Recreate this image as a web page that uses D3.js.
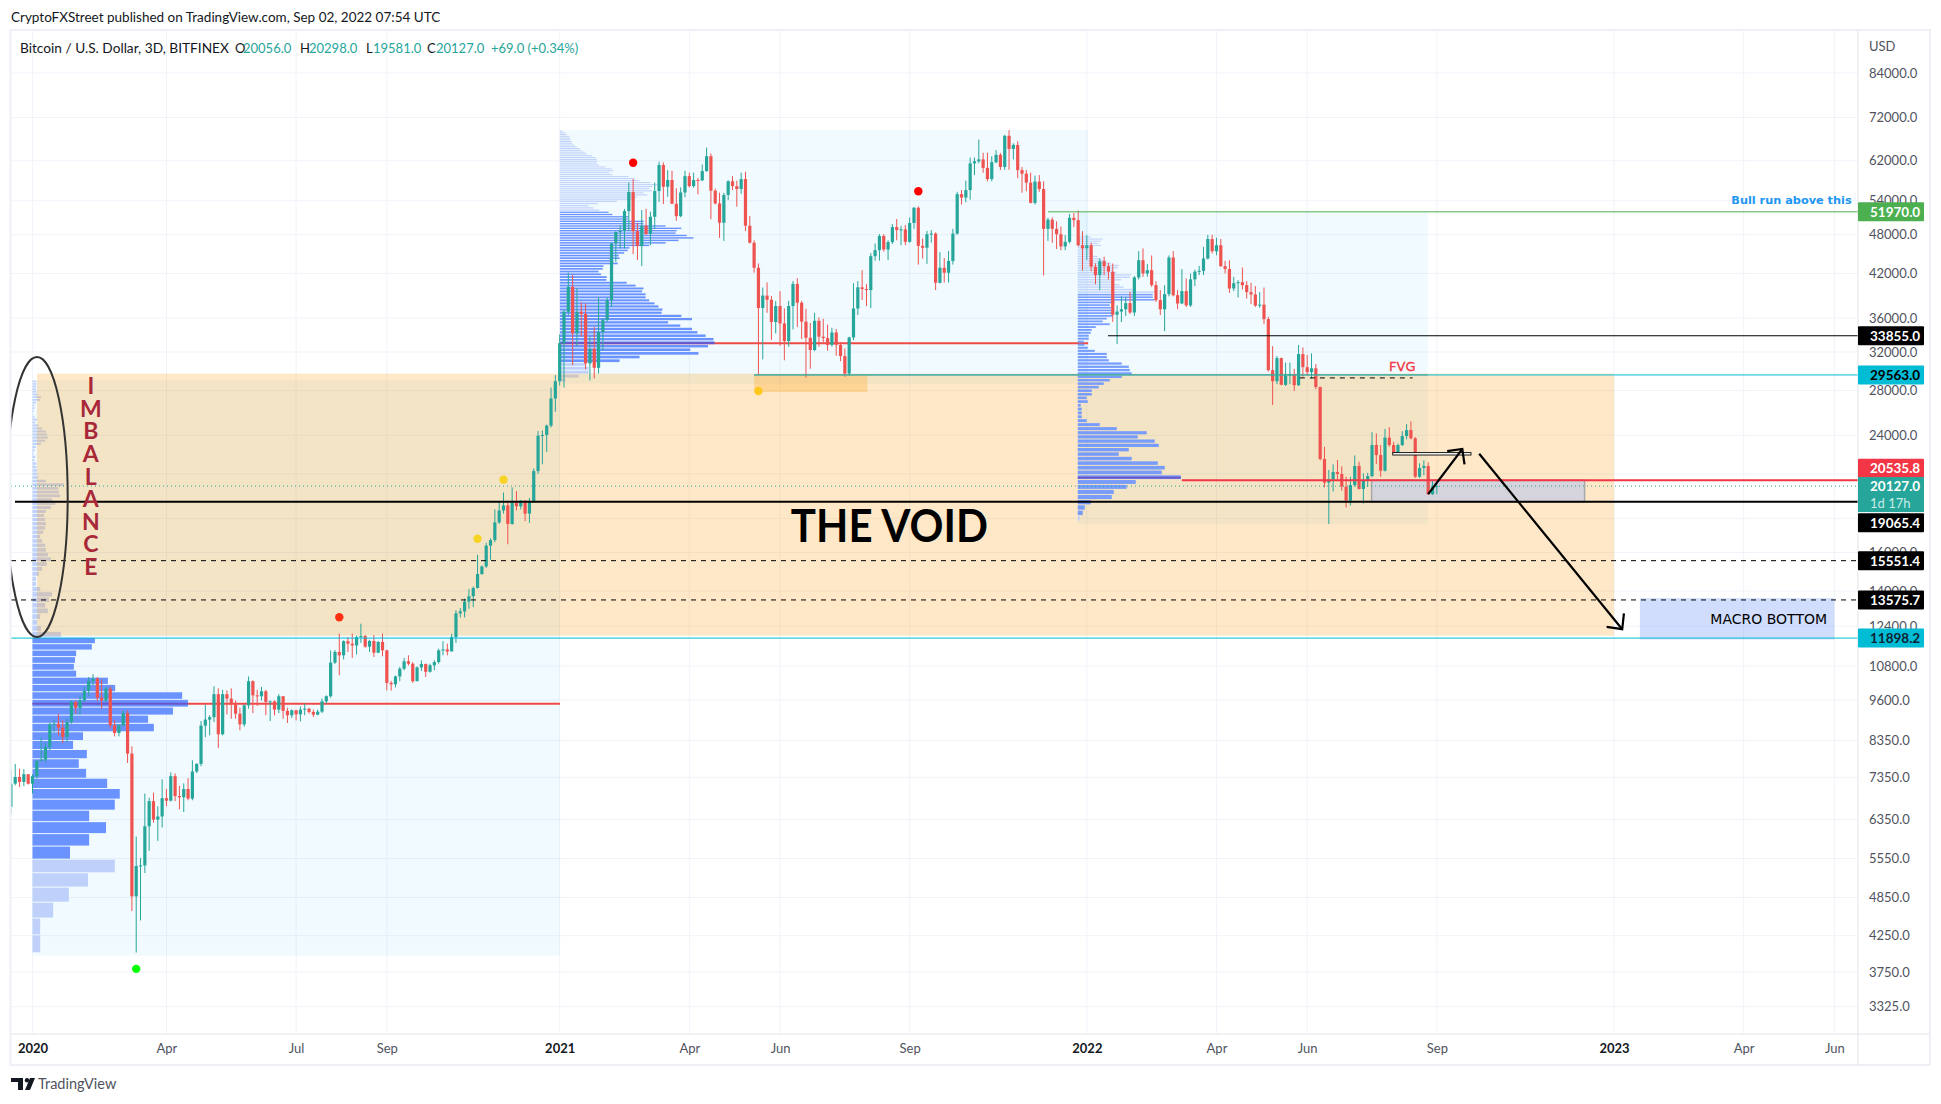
<!DOCTYPE html>
<html>
<head>
<meta charset="utf-8">
<script src="https://cdnjs.cloudflare.com/ajax/libs/d3/7.8.5/d3.min.js"></script>
<style>
  html, body { margin: 0; padding: 0; background: #fff; }
  svg { display: block; font-family: Lato, "Open Sans", sans-serif; }
</style>
</head>
<body>
<svg id="chart" width="1941" height="1104"></svg>
<script>
// 3D candles, ten per row. Each open is the previous close.
const firstOpen = 6640;
const closes = [
  7190,7360,7235,7430,7190,7380,7780,7815,8166,8830,
  8850,8730,8450,8900,9540,9350,9590,9910,10260,10340,
  9680,9594,9990,8800,8570,8800,9180,7980,4870,5410,
  5420,6205,6770,6350,6420,6840,6780,7380,6890,6860,
  7060,6830,7500,7700,8790,8975,9050,9800,8530,9800,
  9650,9460,9160,8830,9430,10250,9760,9730,9900,9540,
  9560,9290,9730,9250,9110,9268,9140,9290,9320,9215,
  9130,9225,9560,9730,10930,11340,11210,11770,11670,11600,
  11942,11980,11550,11780,11310,11740,11404,10190,10140,10420,
  10700,10980,10890,10250,10750,10880,10590,10830,10950,11404,
  11440,11360,11942,12960,13050,13500,13750,14150,14850,15240,
  16380,16700,17750,18500,18830,17660,18980,18770,19130,18300,
  19050,21200,23960,24020,24810,27250,28930,33000,36780,40100,
  34130,36780,36500,30760,32350,30300,34300,35740,38300,46590,
  48470,48620,52100,55650,48620,46170,49530,48140,51090,55840,
  61100,56680,58010,53430,51200,55570,58800,56800,58010,57950,
  59830,63000,55910,53500,50050,55100,57760,56800,56240,58200,
  49530,46700,42830,37260,38900,38350,35500,37520,35330,33240,
  37530,40500,37950,35550,33620,32220,35650,33740,33580,32800,
  34240,32800,31560,29700,33660,37200,40030,39800,39650,44580,
  45520,47800,45620,46800,49300,48790,48900,46850,50000,52700,
  46200,45900,48100,48200,40660,42830,42100,43850,48200,55250,
  54600,56030,61450,61900,62300,60500,58200,61700,63300,60700,
  67600,64600,65500,60040,59300,57500,53600,57700,56240,49000,
  50580,49000,48100,46100,46850,50900,50500,46300,45800,46300,
  42980,41750,43800,43060,42250,36400,36810,37100,37900,36690,
  41420,43960,42000,42470,40330,38300,37100,39090,44370,38950,
  37850,39500,37600,41150,42250,42370,44220,47300,45350,46300,
  43060,42640,39870,40600,40750,40330,39370,39050,37570,37700,
  35860,30060,28930,31330,28570,29520,29650,28530,31770,30370,
  29850,30250,28350,22100,20370,20600,21130,20990,20090,19140,
  20200,21580,19930,20540,20840,23200,22410,21230,23800,23200,
  22540,23200,23930,24430,23740,20790,21430,21580,19570,20056,
  20127
];
const highs = [
  7530,7700,7570,7560,7430,7430,7800,8435,8290,8870,
  8985,9160,8950,9000,9590,9590,9760,10047,10400,10500,
  10400,10310,10047,10070,8975,8830,9250,9268,8180,5990,
  5560,6950,6850,6970,6650,7300,7060,7480,7450,7140,
  7200,7330,7800,7720,8930,9440,9110,10070,10000,9950,
  9930,10000,9590,9350,9460,10420,10280,9950,10047,9950,
  9590,9590,9800,9730,9350,9300,9290,9390,9485,9350,
  9290,9290,9650,9760,11400,11420,12080,11805,11940,12080,
  12000,12505,12030,11830,12020,11780,12080,11430,10260,10450,
  10766,11110,11210,10950,10790,11017,10890,10890,11017,11470,
  11770,11670,12080,13100,13200,13640,14090,14220,15870,15300,
  16540,16800,18570,19090,19690,19000,20040,19780,19180,19180,
  19320,21400,24350,24400,24900,28300,29550,34000,37000,42100,
  41800,39900,38000,37860,33740,34900,38650,36000,38650,46700,
  48600,49590,52500,57500,58200,50060,52290,52500,52000,57500,
  61800,61650,60040,59900,56370,56550,59900,59500,59500,58400,
  61220,64900,63600,56300,55500,55500,57950,58800,57900,59500,
  59700,51200,47100,43470,40000,40700,38850,38170,39500,37200,
  38200,40900,41300,38200,37150,35400,36660,36070,35900,35200,
  34800,34640,33100,32400,33740,40600,40900,42490,40470,45050,
  46590,48120,48120,47100,49800,50700,49500,49650,50970,52850,
  52950,47400,48650,48790,48400,45200,44300,45400,49000,55700,
  56030,57900,62700,62700,66700,63750,63750,63000,64350,63700,
  67800,68960,65870,66350,60700,60040,59500,58900,59000,57760,
  50900,50970,50300,49400,47950,51600,51750,52200,48600,47950,
  46700,43500,44200,44500,43560,43460,37600,38800,38730,39400,
  41620,45370,45790,43370,44700,40880,39640,40330,44700,45370,
  39640,42630,41270,41980,42570,43100,46030,47990,47990,47500,
  47300,43860,43960,41510,41050,42870,40900,40660,40200,39370,
  40000,36150,32660,31560,31400,30850,30850,30200,32800,32520,
  31660,31850,30690,28400,23060,21280,21700,22030,21550,20790,
  20790,22380,21900,21030,21070,24260,24150,23200,24530,24680,
  23460,23310,24330,24940,25190,23850,21780,22000,21850,20540,
  20298
];
const lows = [
  6484,7150,7110,7130,7170,6950,7320,7790,7740,8070,
  8600,8500,8280,8300,8850,9160,9140,9540,9730,10100,
  9570,9320,9540,8700,8470,8470,8750,7725,4630,4010,
  4480,5280,5700,6280,5900,6180,6650,6760,6770,6580,
  6520,6790,6790,7460,7640,8450,8500,8900,8130,8500,
  9140,9000,9000,8650,8760,9320,9180,9410,9590,9110,
  8930,9110,9180,9000,8870,9030,8950,8920,9110,9160,
  9057,9110,9180,9485,9680,10880,10460,11050,11340,11110,
  11240,11700,11510,11340,11145,11310,11170,9930,9920,10030,
  10250,10643,10820,10190,10250,10620,10400,10560,10643,10890,
  11210,11210,11370,11700,12780,12780,13170,13240,14120,14800,
  15170,15600,16580,17660,18300,16460,17600,18500,18570,17830,
  17720,19000,21000,21700,22640,24650,26030,28500,28300,36370,
  30580,32640,33740,30130,29000,29200,29700,32220,35550,37430,
  43720,45800,45800,48620,44900,43990,43090,47960,46300,49000,
  53800,53400,54760,53500,50400,51000,54630,56550,56500,55200,
  57800,59700,50650,53300,47500,47000,54100,56030,52900,55300,
  48620,46590,42100,29560,31200,36660,33360,34130,32700,31100,
  32600,34600,34900,33460,29300,30200,32100,32600,33100,32140,
  32600,31600,31000,29380,29500,33360,36370,38300,37500,37250,
  43900,43900,45300,43990,46500,47100,46300,46300,46700,49000,
  43300,44200,43400,46700,39650,40570,40700,40700,43300,48000,
  53300,53700,54200,59000,61450,59500,57760,57760,61450,60040,
  60100,60100,62300,58400,55500,55800,53500,53300,55700,41700,
  47000,46700,45700,45500,45500,46600,49300,46100,42400,44000,
  42300,40460,39640,41750,41140,35520,32880,35500,36240,36500,
  36240,41130,41510,41510,40100,38050,36360,34400,38800,38800,
  37100,37760,37400,37400,40200,41750,41750,44070,45000,44730,
  42960,41980,39270,39500,38640,39730,38510,37760,37400,37300,
  35240,29900,26640,28640,28530,28460,28640,27960,28460,29380,
  29480,29200,28140,22000,20040,17650,19750,20470,19810,18690,
  18820,20080,19890,18950,20060,20740,21720,20790,21160,23060,
  22430,22520,23120,23660,23660,20700,20700,20900,19530,19530,
  19581
];

// volume profile rows, bottom to top, in arbitrary units
const profile2020 = [
  20,20,54,95,145,215,98,148,192,148,215,228,195,140,121,142,106,132,317,302,367,406,391,216,197,114,108,111,114,155,163,74,
  22,12,20,40,33,43,51,20,9,9,17,25,37,48,40,35,33,25,20,28,33,35,33,30,35,48,60,51,72,69,67,82,35,14,12,12,10,10,5,7,2,5,9,22,33,40,38,35,25,15,7,12,5,1,3,5,5,9,20,22,14,10,9,10,10,10
];
const profile2021 = [
  15,52,80,80,70,
  167,223,388,365,415,433,430,408,385,370,337,303,370,340,285,287,276,265,250,240,240,230,234,212,187,130,131,115,108,120,122,162,150,167,165,180,190,195,250,296,332,374,355,324,327,340,296,234,235,190,192,147,136,
  110,94,80,105,160,210,215,245,234,258,250,258,275,254,223,210,192,147,138,150,145,128,110,103,104,103,100,90,75,70,60,55,47,40,34,32,30,28,27,18,15,7
];
const profile2022 = [
  6,15,21,39,102,108,147,174,309,252,261,240,162,123,153,243,231,180,207,117,66,27,12,12,12,9,30,27,42,42,63,78,96,132,162,156,153,132,93,87,87,51,30,20,18,33,33,39,42,54,96,75,87,105,105,100,100,96,110,230,225,225,
  228,165,138,125,100,130,156,160,115,105,120,123,100,85,70,60,45,42,40,45,70,62,70,75,40
];

// axis ticks. Time ticks are bar numbers, the first bar of that month
const priceTicks = [84000,72000,62000,54000,48000,42000,36000,32000,28000,24000,16000,14000,12400,10800,9600,8350,7350,6350,5550,4850,4250,3750,3325];
const hiddenGridPrices = [21000,18000]; // their labels sit behind the price tags
const timeTickBars = [5,36,66,87,127,157,178,208,249,279,300,330,371,401,422];
const timeTickLabels = ["2020","Apr","Jul","Sep","2021","Apr","Jun","Sep","2022","Apr","Jun","Sep","2023","Apr","Jun"];

// price levels and signal dots
const levelValues = [51970.0,33855.0,29563.0,20535.8,19065.4,15551.4,13575.7,11898.2];
const dotBars = [76,108,114,144,173,210,29];
const dotPrices = [12790,16780,20580,61590,27960,55800,3790];
const dotColors = ["#ff3010","#f7d325","#f7d325","#ff0000","#ffc81e","#ff0000","#00ff00"];
const imbalanceLetters = ["I","M","B","A","L","A","N","C","E"];

const UP = "#26a69a", DOWN = "#ef5350";
const PANE = {left: 11, right: 1858, top: 31, bottom: 1034};

const svg = d3.select("#chart");

// scales: bars are evenly spaced, prices are log
const x = d3.scaleLinear().domain([5, 371]).range([32.5, 1614]);
const y = d3.scaleLog().domain([84000, 3325]).range([73, 1006.7]);

svg.append("defs").append("clipPath").attr("id", "pane").append("rect")
  .attr("x", PANE.left).attr("y", PANE.top)
  .attr("width", PANE.right - PANE.left).attr("height", PANE.bottom - PANE.top);

const pane = svg.append("g").attr("clip-path", "url(#pane)");

// gridlines
pane.selectAll(".hgrid").data(priceTicks.concat(hiddenGridPrices)).join("line").attr("class", "hgrid")
  .attr("x1", PANE.left).attr("x2", PANE.right)
  .attr("y1", d => y(d)).attr("y2", d => y(d))
  .attr("stroke", "#f0f3fa");
pane.selectAll(".vgrid").data(timeTickBars).join("line").attr("class", "vgrid")
  .attr("x1", d => x(d)).attr("x2", d => x(d))
  .attr("y1", PANE.top).attr("y2", PANE.bottom)
  .attr("stroke", "#f0f3fa");

function box(bar0, bar1, priceTop, priceBottom, fill) {
  return pane.append("rect")
    .attr("x", x(bar0)).attr("width", x(bar1) - x(bar0))
    .attr("y", y(priceTop)).attr("height", y(priceBottom) - y(priceTop))
    .attr("fill", fill);
}

// blue range boxes behind the profiles
const blueBox = "rgba(0,170,230,0.055)";
box(5, 127.06, 29000, 3970, blueBox);
box(127.06, 249.3, 68960, 28700, blueBox);
box(246.9, 327.9, 51970, 17630, blueBox);

// fixed range volume profile with its point of control
function drawProfile(rows, bar, low, step, unitMax, widthMax, darkFrom, darkTo, poc, pocEndBar) {
  const w = d3.scaleLinear().domain([0, unitMax]).range([0, widthMax]);
  const pocPrice = low + (poc + 0.5) * step;
  if (pocEndBar) {
    pane.append("line")
      .attr("x1", x(bar)).attr("x2", x(pocEndBar))
      .attr("y1", y(pocPrice)).attr("y2", y(pocPrice))
      .attr("stroke", "#ef4a45").attr("stroke-width", 2);
  }
  pane.append("g").selectAll("rect").data(rows).join("rect")
    .attr("x", x(bar))
    .attr("width", d => w(d))
    .attr("y", (d, i) => y(low + (i + 1) * step))
    .attr("height", (d, i) => Math.max(1, y(low + i * step) - y(low + (i + 1) * step) - 1))
    .attr("fill", (d, i) => (i >= darkFrom && i <= darkTo) ? "#6a93ff" : "#bfd1fb")
    .attr("fill-opacity", pocEndBar ? 1 : 0.9);
  pane.append("rect")
    .attr("x", x(bar)).attr("width", w(rows[poc]))
    .attr("y", y(pocPrice) - 1).attr("height", 2)
    .attr("fill", "#6b55c8");
}
drawProfile(profile2020, 5, 4000, 255, 406, 155.4, 6, 30, 21, 127.06);
drawProfile(profile2021, 127.06, 28800, 400, 433, 154.6, 5, 57, 10, 249.3);

// orange zones sit over the first two profiles
box(6.04, 371, 29700, 12000, "rgba(255,152,0,0.22)");
box(172, 198.2, 29563, 27860, "rgba(255,152,0,0.25)");
box(377, 422, 13660, 11840, "rgba(80,130,245,0.27)");

// the 2022 profile was drawn later, so it stays on top of the orange
drawProfile(profile2022, 246.9, 17800, 344, 309, 103, 1, 61, 8, null);

// grey support box
box(314.9, 364.2, 20535.8, 19065.4, "rgba(208,210,222,0.9)")
  .attr("stroke", "#a8a8ac").attr("stroke-width", 1.5);

// candles
const candles = closes.map((c, i) => ({
  bar: i,
  open: i === 0 ? firstOpen : closes[i - 1],
  close: c,
  high: highs[i],
  low: lows[i]
}));
const candleG = pane.append("g");
candleG.selectAll("line").data(candles).join("line")
  .attr("x1", d => x(d.bar)).attr("x2", d => x(d.bar))
  .attr("y1", d => y(d.high)).attr("y2", d => y(d.low))
  .attr("stroke", d => d.close >= d.open ? UP : DOWN);
candleG.selectAll("rect").data(candles).join("rect")
  .attr("x", d => x(d.bar) - 1.6).attr("width", 3.2)
  .attr("y", d => y(Math.max(d.open, d.close)))
  .attr("height", d => Math.max(1, Math.abs(y(d.open) - y(d.close))))
  .attr("fill", d => d.close >= d.open ? UP : DOWN);

// horizontal levels
function level(price, bar0, color, width, dash) {
  pane.append("line")
    .attr("x1", bar0 === null ? PANE.left : x(bar0)).attr("x2", PANE.right)
    .attr("y1", y(price)).attr("y2", y(price))
    .attr("stroke", color).attr("stroke-width", width)
    .attr("stroke-dasharray", dash || null);
}
level(levelValues[0], 240, "#4caf50", 1);
level(levelValues[1], 253.9, "#000", 1.2);
level(levelValues[2], 172, "#00bcd4", 1);
pane.append("line")
  .attr("x1", x(172)).attr("x2", x(327.9))
  .attr("y1", y(levelValues[2])).attr("y2", y(levelValues[2]))
  .attr("stroke", "#55a086").attr("stroke-width", 1);
level(levelValues[3], 271, "#f23645", 2);
level(20127, null, UP, 1, "1,3");
pane.append("line")
  .attr("x1", 15).attr("x2", PANE.right)
  .attr("y1", y(levelValues[4])).attr("y2", y(levelValues[4]))
  .attr("stroke", "#000").attr("stroke-width", 2.2);
level(levelValues[5], null, "#000", 1, "5,5");
level(levelValues[6], null, "#000", 1, "5,5");
level(levelValues[7], null, "#00bcd4", 1);

// FVG dashes and the small double line
pane.append("line")
  .attr("x1", x(298.3)).attr("x2", x(324.4))
  .attr("y1", y(29260)).attr("y2", y(29260))
  .attr("stroke", "#000").attr("stroke-width", 1).attr("stroke-dasharray", "5,5");
pane.append("rect")
  .attr("x", x(319.8)).attr("width", x(337.9) - x(319.8))
  .attr("y", y(22520) - 1).attr("height", 2.4)
  .attr("fill", "#fff").attr("stroke", "#000").attr("stroke-width", 0.9);

// signal dots
pane.selectAll(".dot").data(dotBars).join("circle").attr("class", "dot")
  .attr("cx", d => x(d))
  .attr("cy", (d, i) => y(dotPrices[i]))
  .attr("r", 4.2)
  .attr("fill", (d, i) => dotColors[i]);

// arrows
const arrowLine = d3.line().x(d => x(d[0])).y(d => y(d[1]));
function arrow(points) {
  pane.append("path").attr("d", arrowLine(points))
    .attr("fill", "none").attr("stroke", "#000").attr("stroke-width", 2.2);
}
arrow([[328, 19580], [335.9, 22880]]);
arrow([[332.4, 22720], [335.9, 22880], [336.4, 21700]]);
arrow([[339.8, 22510], [372.9, 12270]]);
arrow([[369.3, 12370], [372.9, 12270], [373.3, 12960]]);

// imbalance ellipse and letters
pane.append("ellipse")
  .attr("cx", x(6.04)).attr("cy", y(19380))
  .attr("rx", 30.7).attr("ry", 140)
  .attr("fill", "none").attr("stroke", "#333").attr("stroke-width", 2);
pane.selectAll(".imb").data(imbalanceLetters).join("text").attr("class", "imb")
  .attr("x", x(18.5))
  .attr("y", (d, i) => y(28470) + i * 22.6)
  .attr("dy", "0.36em")
  .attr("text-anchor", "middle")
  .attr("font-size", 23).attr("font-weight", 700)
  .attr("fill", "#a8283a")
  .text(d => d);

// chart text labels
pane.append("text").attr("x", x(203.3)).attr("y", y(17560)).attr("dy", "0.36em")
  .attr("text-anchor", "middle").attr("font-size", 45).attr("font-weight", 700)
  .attr("textLength", 197).attr("lengthAdjust", "spacingAndGlyphs")
  .attr("fill", "#000").text("THE VOID");
pane.append("text").attr("x", x(322)).attr("y", y(30490)).attr("dy", "0.36em")
  .attr("text-anchor", "middle").attr("font-size", 13)
  .attr("font-family", "DejaVu Sans").attr("stroke", "#f23645").attr("stroke-width", 0.3)
  .attr("fill", "#f23645").text("FVG");
pane.append("text").attr("x", x(426)).attr("y", y(54140)).attr("dy", "0.36em")
  .attr("text-anchor", "end").attr("font-size", 11.3).attr("font-weight", 700)
  .attr("font-family", "DejaVu Sans").attr("fill", "#2196f3").text("Bull run above this");
pane.append("text").attr("x", x(406.8)).attr("y", y(12730)).attr("dy", "0.36em")
  .attr("text-anchor", "middle").attr("font-size", 14)
  .attr("font-family", "DejaVu Sans").attr("fill", "#000").text("MACRO BOTTOM");

// frame
svg.append("rect").attr("x", 10.5).attr("y", 30).attr("width", 1919.5).attr("height", 1035)
  .attr("fill", "none").attr("stroke", "#eef0f6").attr("stroke-width", 2);
svg.append("line").attr("x1", PANE.right).attr("x2", PANE.right).attr("y1", 31).attr("y2", 1065).attr("stroke", "#e0e3eb");
svg.append("line").attr("x1", 11).attr("x2", 1929).attr("y1", PANE.bottom).attr("y2", PANE.bottom).attr("stroke", "#e0e3eb");

// price axis
const priceAxis = svg.append("g").attr("transform", `translate(${PANE.right},0)`)
  .call(d3.axisRight(y).tickValues(priceTicks).tickFormat(d3.format(".1f")).tickSize(0).tickPadding(11));
priceAxis.select(".domain").remove();
priceAxis.selectAll("text").attr("font-size", 13).attr("font-family", "Lato").attr("fill", "#50535e");

svg.append("text").attr("x", 1869).attr("y", 46).attr("dy", "0.36em")
  .attr("font-size", 13).attr("fill", "#50535e").text("USD");

// time axis
const timeAxis = svg.append("g").attr("transform", `translate(0,${PANE.bottom})`)
  .call(d3.axisBottom(x).tickValues(timeTickBars)
    .tickFormat(d => timeTickLabels[timeTickBars.indexOf(d)]).tickSize(0).tickPadding(10));
timeAxis.select(".domain").remove();
timeAxis.selectAll("text")
  .attr("font-size", 13).attr("font-family", "Lato")
  .attr("font-weight", d => timeTickLabels[timeTickBars.indexOf(d)].length === 4 ? 700 : 400)
  .attr("fill", d => timeTickLabels[timeTickBars.indexOf(d)].length === 4 ? "#131722" : "#50535e");

// price tags on the axis. shift moves a tag off its level where they would collide
const tagTexts = ["51970.0","33855.0","29563.0","20535.8","19065.4","15551.4","13575.7","11898.2"];
const tagFills = ["#4caf50","#000","#00bcd4","#f23645","#000","#000","#000","#00bcd4"];
const tagInks = ["#fff","#fff","#000","#fff","#fff","#fff","#fff","#123"];
const tagShifts = [0,0,0,-12,21,0,0,0];
const tags = svg.append("g").selectAll("g").data(levelValues).join("g")
  .attr("transform", (d, i) => `translate(${PANE.right},${y(d) + tagShifts[i]})`);
tags.append("rect").attr("x", 0).attr("y", -9.5).attr("width", 66).attr("height", 19).attr("rx", 1)
  .attr("fill", (d, i) => tagFills[i]);
tags.append("text").attr("x", 12).attr("dy", "0.36em").attr("font-size", 13.5)
  .attr("font-weight", 700).attr("fill", (d, i) => tagInks[i]).text((d, i) => tagTexts[i]);

// current price tag with countdown
const lastTag = svg.append("g").attr("transform", `translate(${PANE.right},${y(20127)})`);
lastTag.append("rect").attr("x", 0).attr("y", -9).attr("width", 66).attr("height", 35).attr("fill", UP);
lastTag.append("text").attr("x", 12).attr("y", 0).attr("dy", "0.36em").attr("font-size", 13.5)
  .attr("font-weight", 700).attr("fill", "#fff").text("20127.0");
lastTag.append("text").attr("x", 12).attr("y", 17).attr("dy", "0.36em").attr("font-size", 13)
  .attr("fill", "#c9ebe7").text("1d 17h");

// title line
svg.append("text").attr("x", 11).attr("y", 17).attr("dy", "0.36em")
  .attr("font-size", 13.5).attr("fill", "#131722")
  .text("CryptoFXStreet published on TradingView.com, Sep 02, 2022 07:54 UTC");

// legend line
const legendParts = [
  [20, "Bitcoin / U.S. Dollar, 3D, BITFINEX", "#131722", 13.7],
  [235, "O", "#131722", 13], [243, "20056.0", UP, 13],
  [300, "H", "#131722", 13], [309, "20298.0", UP, 13],
  [366, "L", "#131722", 13], [373, "19581.0", UP, 13],
  [427, "C", "#131722", 13], [436, "20127.0", UP, 13],
  [491, "+69.0 (+0.34%)", UP, 13]
];
svg.append("g").selectAll("text").data(legendParts).join("text")
  .attr("x", d => d[0]).attr("y", 48).attr("dy", "0.36em")
  .attr("font-size", d => d[3]).attr("fill", d => d[2]).text(d => d[1]);

// TradingView mark and name
const logo = svg.append("g").attr("fill", "#131722");
logo.append("path").attr("d", "M11 1078h12v12h-5v-8h-7z");
logo.append("circle").attr("cx", 27).attr("cy", 1080.2).attr("r", 2.2);
logo.append("path").attr("d", "M30 1078h5l-5 12h-5z");
svg.append("text").attr("x", 38).attr("y", 1084).attr("dy", "0.36em")
  .attr("font-size", 14.5).attr("fill", "#50535e").text("TradingView");
</script>
</body>
</html>
